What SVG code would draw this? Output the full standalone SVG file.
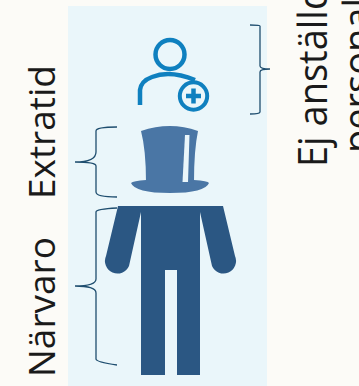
<svg xmlns="http://www.w3.org/2000/svg" width="359" height="386" viewBox="0 0 359 386">
<style>
.t{font-family:"Open Sans","DejaVu Sans",sans-serif;font-size:37px;fill:#1a1a1a}
.r{font-size:38px}
.b{fill:none;stroke:#1f4e6f;stroke-width:1.3}
.body{fill:#2b5783}
.ic{fill:none;stroke:#0f80bf;stroke-width:4.5}
</style>
<rect width="359" height="386" fill="#fcfbf7"/>
<rect x="68" y="6" width="199" height="380" fill="#eaf6fa"/>
<g id="node-anstalld">
<circle class="ic" cx="170" cy="54.500" r="14.500"/>
<path class="ic" d="M140 105V90Q141 81 152 77Q170 70 195 80"/>
<circle cx="193.500" cy="96" r="13.700" fill="#eaf6fa" stroke="#0f80bf" stroke-width="4"/>
<path d="M193.500 88.500V103.500M186 96H201" fill="none" stroke="#0f80bf" stroke-width="4.500"/>
</g>
<g id="node-hat">
<path d="M141 131Q170 121 198 131Q194 150 194 182H146Q146 150 141 131Z" fill="#4a76a5"/>
<path d="M131 183Q133 181 146 180H194Q208 181 209 183Q205 193 170 193Q135 193 131 183Z" fill="#4a76a5"/>
<path d="M185 135H189.500L188 182H182.500Z" fill="#eaf6fa"/>
</g>
<g id="node-person" class="body">
<path d="M118 206H223L235 256A12 12 0 0 1 212 266L200 212V375H177V270H165V375H141V212L129 266A12 12 0 0 1 106 256Z"/>
</g>
<g id="connectors">
<path class="b" d="M117 127Q96 127 96 131V152Q96 162 75 162Q96 162 96 166V192Q96 197 117 197"/>
<path class="b" d="M250 25Q260 25 260 26V66Q260 69 270 69Q260 69 260 72V112Q260 114 250 114"/>
<path class="b" d="M117 208Q96 209 96 212V279Q96 286 75 286Q96 286 96 293V359Q96 362 117 365"/>
</g>
<g id="labels">
<text class="t" transform="translate(55 377) rotate(-90)">Närvaro</text>
<text class="t" transform="translate(55 199) rotate(-90)">Extratid</text>
<text class="t r" transform="translate(327 167) rotate(-90) scale(1 1.05)">Ej anställd</text>
<text class="t r" transform="translate(372 153) rotate(-90) scale(1 1.05)">personal</text>
</g>
</svg>
